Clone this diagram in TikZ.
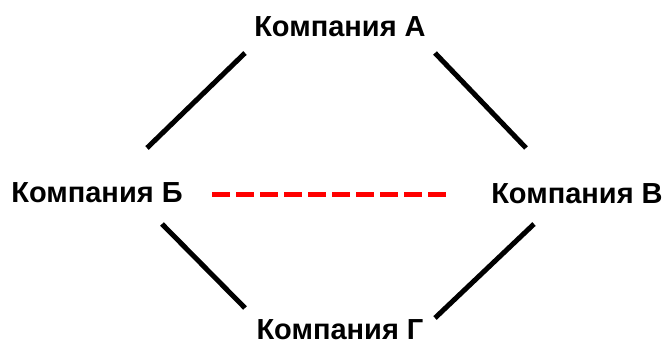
\documentclass[tikz,border=0pt]{standalone}
\usepackage{fontspec}
\setmainfont{Liberation Sans}
\begin{document}
\begin{tikzpicture}[x=1pt,y=-1pt,
  lbl/.style={font=\fontsize{29}{33}\selectfont\bfseries, inner sep=0pt, anchor=base},
  link/.style={line width=5pt, black},
  rivalry/.style={line width=5pt, red, dash pattern=on 18pt off 6pt}]
\useasboundingbox (0,0) rectangle (664,347);
\node[lbl] (a) at (340,37) {Компания А};
\node[lbl] (b) at (97,203) {Компания Б};
\node[lbl] (v) at (577,204) {Компания В};
\node[lbl] (g) at (340,340) {Компания Г};
\coordinate (a1) at (245,53);
\coordinate (b1) at (147,148);
\coordinate (a2) at (435,53);
\coordinate (v1) at (526,148);
\coordinate (b2) at (162,224);
\coordinate (g1) at (245,308);
\coordinate (v2) at (534,224);
\coordinate (g2) at (435,318);
\coordinate (d1) at (212,195);
\coordinate (d2) at (446,195);
\draw[link] (a1) -- (b1);
\draw[link] (a2) -- (v1);
\draw[link] (b2) -- (g1);
\draw[link] (v2) -- (g2);
\draw[rivalry] (d1) -- (d2);
\end{tikzpicture}
\end{document}
